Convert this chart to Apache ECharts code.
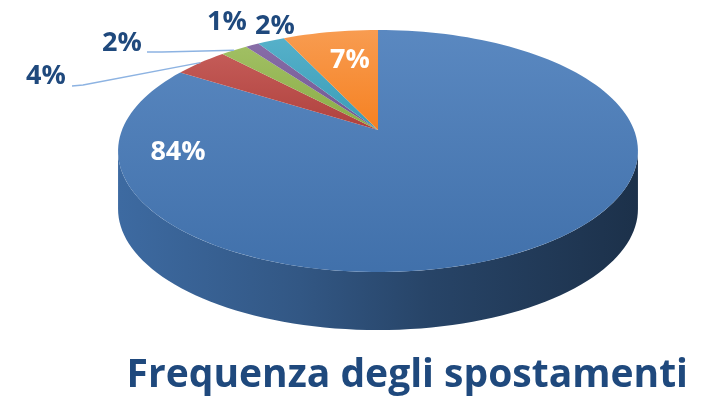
<!DOCTYPE html>
<html lang="it">
<head>
	<meta charset="UTF-8">
	<title>Frequenza degli spostamenti</title>
	<script src="https://cdn.jsdelivr.net/npm/echarts@6/dist/echarts.min.js"></script>
	<style>
		html, body { margin: 0; padding: 0; background: #fff; }
		#chart { width: 707px; height: 401px; }
	</style>
</head>
<body>
	<div id="chart"></div>
	<script>
		// dati
		var categories = ['Tutti i giorni', 'Qualche volta a settimana', 'Una volta a settimana', 'Qualche volta al mese', 'Raramente', 'Mai'];
		var values = [84, 4, 2, 1, 2, 7];
		var colors = ['#4f81bd', '#c0504d', '#9bbb59', '#8064a2', '#4bacc6', '#f79646'];

		// geometria della torta 3D (prospettiva)
		var CX = 378, CY = 130, A = 256, B = 117.4, K = 0.1736, DEPTH = 58;
		// posizione delle etichette (testo) e gomiti delle linee guida
		var labelPos = [[178, 152], [46, 76], [122, 43], [227, 22], [275, 26], [350, 60]];
		var labelInside = [true, false, false, false, false, true];
		var leaderElbow = [null, [83, 85], [162, 52], null, null, null];
		var leaderFrom = [null, [72, 86], [147, 52], null, null, null];

		var total = values.reduce(function (a, b) { return a + b; }, 0);
		var starts = [], acc = 0;
		values.forEach(function (v) { starts.push(acc / total * 360); acc += v; });

		function proj(deg, r, dy) {
			var t = deg * Math.PI / 180;
			var u = r * Math.sin(t), v = r * Math.cos(t);
			var w = 1 + K * v;
			return [CX + A * u / w, CY - B * v / w + (dy || 0)];
		}
		function arc(a0, a1, dy) {
			var pts = [], n = Math.max(2, Math.ceil(Math.abs(a1 - a0) / 2));
			for (var i = 0; i <= n; i++) pts.push(proj(a0 + (a1 - a0) * i / n, 1, dy));
			return pts;
		}
		// schiarisce/scurisce in HSL mantenendo la saturazione
		function shade(hex, f) {
			var n = parseInt(hex.slice(1), 16);
			var r = ((n >> 16) & 255) / 255, g = ((n >> 8) & 255) / 255, b = (n & 255) / 255;
			var mx = Math.max(r, g, b), mn = Math.min(r, g, b), l = (mx + mn) / 2, h = 0, s = 0, d = mx - mn;
			if (d) {
				s = l > 0.5 ? d / (2 - mx - mn) : d / (mx + mn);
				if (mx === r) h = (g - b) / d + (g < b ? 6 : 0);
				else if (mx === g) h = (b - r) / d + 2;
				else h = (r - g) / d + 4;
				h /= 6;
			}
			l = f > 0 ? l + (1 - l) * f : l * (1 + f);
			return 'hsl(' + Math.round(h * 360) + ',' + Math.round(s * 100) + '%,' + (l * 100).toFixed(1) + '%)';
		}

		function renderItem(params, api) {
			var i = params.dataIndex;
			var a0 = starts[i], a1 = a0 + api.value(1) / total * 360;
			var children = [];
			// parete laterale (parte frontale visibile: 100°..260°)
			var w0 = Math.max(a0, 100), w1 = Math.min(a1, 260);
			if (w1 > w0) {
				var top = arc(w0, w1, 0), bot = arc(w1, w0, DEPTH);
				children.push({
					type: 'polygon',
					shape: { points: top.concat(bot) },
					style: {
						fill: {
							type: 'linear', x: 0, y: 0, x2: 1, y2: 0,
							colorStops: [
								{ offset: 0, color: shade(colors[i], -0.17) },
								{ offset: 0.35, color: shade(colors[i], -0.32) },
								{ offset: 0.6, color: shade(colors[i], -0.47) },
								{ offset: 1, color: shade(colors[i], -0.62) }
							]
						}
					}
				});
			}
			// faccia superiore
			children.push({
				type: 'polygon',
				shape: { points: [[CX, CY]].concat(arc(a0, a1, 0)) },
				style: {
					fill: {
						type: 'linear', x: 0, y: 0, x2: 0, y2: 1,
						colorStops: [
							{ offset: 0, color: shade(colors[i], 0.06) },
							{ offset: 1, color: shade(colors[i], -0.12) }
						]
					}
				}
			});
			// linea guida
			if (leaderElbow[i]) {
				var mid = proj((a0 + a1) / 2, 1.0);
				children.push({
					type: 'polyline',
					shape: { points: [mid, leaderElbow[i], leaderFrom[i]] },
					style: { stroke: '#8db3e2', lineWidth: 1.5, fill: null }
				});
			}
			// etichetta percentuale
			children.push({
				type: 'text',
				x: labelPos[i][0], y: labelPos[i][1],
				style: {
					text: Math.round(api.value(1) / total * 100) + '%',
					fontFamily: 'Open Sans', fontWeight: 'bold', fontSize: 27,
					fill: labelInside[i] ? '#ffffff' : '#1f497d',
					align: 'center', verticalAlign: 'middle'
				}
			});
			return { type: 'group', children: children };
		}

		var myChart = echarts.init(document.getElementById('chart'));
		myChart.setOption({
			animation: false,
			title: {
				text: 'Frequenza degli spostamenti',
				right: 14, bottom: 1,
				textStyle: { fontFamily: 'Open Sans', fontWeight: 'bold', fontSize: 39, color: '#1f497d' }
			},
			series: [{
				type: 'custom',
				coordinateSystem: 'none',
				renderItem: renderItem,
				data: values.map(function (v, i) { return { name: categories[i], value: [i, v] }; })
			}]
		});
	</script>
</body>
</html>
